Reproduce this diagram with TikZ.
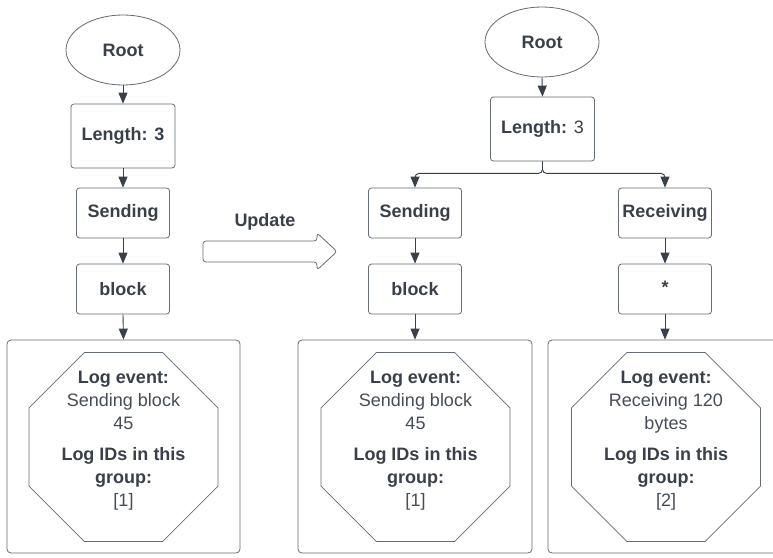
\documentclass[tikz,border=0pt]{standalone}
\usepackage{fontspec}
\setmainfont{Liberation Sans}
\usetikzlibrary{shapes.geometric,arrows.meta}
\definecolor{ink}{HTML}{3A4049}
\definecolor{soft}{HTML}{474D56}
\definecolor{edge}{HTML}{656C76}
\begin{document}
\begin{tikzpicture}[x=1pt,y=-1pt,
  every node/.style={text=ink, font=\fontsize{18}{22}\selectfont},
  box/.style={draw=edge, line width=0.8pt, rounded corners=3pt,
    minimum width=93pt, minimum height=50pt, inner sep=0pt},
  tallbox/.style={box, minimum width=104pt, minimum height=64pt},
  rootnode/.style={ellipse, draw=edge, line width=0.8pt,
    minimum width=114pt, minimum height=70pt, inner sep=0pt},
  groupbox/.style={draw=edge, line width=0.8pt, rounded corners=4pt,
    minimum width=233pt, minimum height=213pt, inner sep=0pt},
  octa/.style={regular polygon, regular polygon sides=8, draw=edge,
    line width=0.8pt, minimum size=204.6pt, inner sep=0pt},
  octtext/.style={align=center, inner sep=0pt, text=soft,
    font=\fontsize{18}{23}\selectfont},
  link/.style={draw=ink, line width=0.9pt, -{Triangle[width=9pt,length=11pt]}},
  bigarrow/.style={draw=edge, line width=0.8pt, rounded corners=3pt},
]
\clip (0,0) rectangle (773,557);
\fill[white] (0,0) rectangle (773,557);

% ---- tree before the update ----
\node[rootnode] (r1) at (123,50) {\bfseries Root};
\node[tallbox] (l1) at (123,136) {\bfseries Length: 3};
\node[box] (s1) at (123,213) {\bfseries Sending};
\node[box] (b1) at (123,289) {\bfseries block};
\node[groupbox] (g1) at (123.5,446.5) {};
\node[octa] (o1) at (123.5,447) {};
\node[octtext] (t1) at (123.5,441) {\textcolor{ink}{\textbf{Log event:}}\\Sending block\\45\\[8pt]
  \textcolor{ink}{\textbf{Log IDs in this}}\\\textcolor{ink}{\textbf{group:}}\\{}[1]};

\draw[link] (r1.south) -- (l1.north);
\draw[link] (l1.south) -- (s1.north);
\draw[link] (s1.south) -- (b1.north);
\draw[link] (b1.south) -- (g1.north);

% ---- update arrow ----
\node[font=\fontsize{18}{22}\selectfont\bfseries] (upd) at (265,222) {Update};
\draw[bigarrow] (203,241) -- (317,241) -- (317,233) -- (337,251.5)
  -- (317,270) -- (317,262) -- (203,262) -- cycle;

% ---- tree after the update ----
\node[rootnode] (r2) at (542,42) {\bfseries Root};
\node[tallbox] (l2) at (542.5,129) {\textbf{Length:} 3};
\node[box] (s2) at (415,213) {\bfseries Sending};
\node[box] (b2) at (415,289) {\bfseries block};
\node[box] (s3) at (665,213) {\bfseries Receiving};
\node[box] (b3) at (665,289) {\raisebox{3pt}{\bfseries *}};
\node[groupbox, minimum width=234pt] (g2) at (415,446.5) {};
\node[groupbox, minimum width=234pt] (g3) at (665,446.5) {};
\node[octa] (o2) at (415.5,447) {};
\node[octa] (o3) at (666,447) {};
\node[octtext] (t2) at (415.5,441) {\textcolor{ink}{\textbf{Log event:}}\\Sending block\\45\\[8pt]
  \textcolor{ink}{\textbf{Log IDs in this}}\\\textcolor{ink}{\textbf{group:}}\\{}[1]};
\node[octtext] (t3) at (666,441) {\textcolor{ink}{\textbf{Log event:}}\\Receiving 120\\bytes\\[8pt]
  \textcolor{ink}{\textbf{Log IDs in this}}\\\textcolor{ink}{\textbf{group:}}\\{}[2]};

\draw[link] (r2.south) -- (l2.north);
\draw[link, rounded corners=4pt] (l2.south) -- ++(0,12) -| (s2.north);
\draw[link, rounded corners=4pt] (l2.south) -- ++(0,12) -| (s3.north);
\draw[link] (s2.south) -- (b2.north);
\draw[link] (s3.south) -- (b3.north);
\draw[link] (b2.south) -- (g2.north);
\draw[link] (b3.south) -- (g3.north);
\end{tikzpicture}
\end{document}
